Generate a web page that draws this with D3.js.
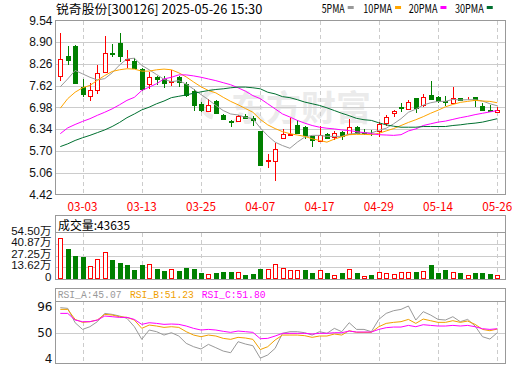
<!DOCTYPE html>
<html><head><meta charset="utf-8">
<script src="https://cdn.jsdelivr.net/npm/d3@7"></script>
<style>html,body{margin:0;padding:0;background:#fff}svg{display:block}</style>
</head><body>
<svg id="chart" width="520" height="365"></svg>
<script>
// ---------------- data ----------------
const dates = ["02-26","02-27","02-28","03-03","03-04","03-05","03-06","03-07","03-10","03-11","03-12","03-13","03-14","03-17","03-18","03-19","03-20","03-21","03-24","03-25","03-26","03-27","03-28","03-31","04-01","04-02","04-03","04-07","04-08","04-09","04-10","04-11","04-14","04-15","04-16","04-17","04-18","04-21","04-22","04-23","04-24","04-25","04-28","04-29","04-30","05-06","05-07","05-08","05-09","05-12","05-13","05-14","05-15","05-16","05-19","05-20","05-21","05-22","05-23","05-26"];
const openP  = [7.90,8.51,8.80,7.59,7.32,7.50,8.03,8.57,8.88,8.38,8.36,8.12,7.68,7.89,7.82,7.73,7.89,7.68,7.48,7.07,6.89,7.17,6.77,6.58,6.59,6.72,6.66,6.30,5.40,5.41,6.09,6.17,6.47,6.40,6.14,5.99,6.19,6.11,6.25,6.21,6.42,6.25,6.21,6.28,6.53,6.82,6.98,6.93,7.27,7.04,7.36,7.28,7.17,7.12,7.27,7.25,7.30,7.02,6.92,6.86];
const highP  = [9.17,8.78,8.82,7.82,7.71,8.22,9.07,8.85,9.17,8.66,8.43,8.15,8.02,7.92,7.90,8.07,7.92,7.73,7.51,7.14,7.22,7.21,6.79,6.62,6.76,6.79,6.72,6.30,5.60,5.93,6.35,6.68,6.60,6.45,6.14,6.45,6.23,6.28,6.28,6.63,6.45,6.35,6.33,6.55,6.75,6.92,7.12,7.21,7.27,7.38,7.76,7.33,7.33,7.58,7.27,7.30,7.30,7.11,7.04,6.99];
const lowP   = [7.76,8.22,7.66,7.28,7.17,7.38,8.01,8.46,8.31,8.15,8.11,7.46,7.51,7.63,7.56,7.60,7.58,7.30,6.87,6.86,6.89,6.81,6.60,6.40,6.57,6.64,6.43,5.29,5.21,4.81,6.06,6.16,6.21,6.05,5.81,5.99,6.04,6.03,6.01,6.19,6.21,6.16,6.13,6.11,6.45,6.70,6.84,6.93,6.82,6.99,7.24,7.12,7.02,7.09,7.19,7.21,6.99,6.92,6.87,6.82];
const closeP = [8.41,8.39,7.70,7.38,7.50,8.00,8.59,8.55,8.49,8.40,8.14,7.53,7.87,7.81,7.70,7.77,7.72,7.36,7.04,6.91,7.04,6.83,6.63,6.56,6.74,6.68,6.62,5.29,5.43,5.76,6.19,6.21,6.23,6.16,6.03,6.16,6.09,6.23,6.13,6.40,6.22,6.23,6.19,6.50,6.70,6.89,6.96,7.13,6.97,7.30,7.24,7.16,7.13,7.26,7.21,7.27,7.19,6.92,6.87,6.92];
const volume = [48.6,34.9,26.7,25.5,15.7,23.9,32.2,22.3,18.4,16.1,10.2,16.1,18.0,11.8,9.0,12.2,9.0,12.5,11.8,6.7,6.3,6.7,7.8,7.8,8.6,4.3,5.5,11.4,11.4,18.0,13.3,11.0,11.0,10.2,6.7,11.0,6.7,5.1,6.7,12.2,6.7,3.9,4.3,8.6,7.4,6.3,8.6,8.6,7.8,9.8,16.1,6.7,10.2,8.6,6.7,5.1,6.7,6.7,5.5,4.36];
const ma5  = [7.59,7.82,8.07,7.97,7.87,7.79,7.83,8.00,8.23,8.41,8.43,8.22,8.09,7.95,7.81,7.74,7.77,7.67,7.52,7.36,7.21,7.04,6.89,6.79,6.76,6.69,6.65,6.38,6.15,5.96,5.86,5.78,5.96,6.11,6.16,6.16,6.13,6.13,6.13,6.20,6.22,6.24,6.23,6.31,6.37,6.50,6.65,6.84,6.93,7.05,7.12,7.16,7.16,7.22,7.20,7.21,7.21,7.17,7.09,7.03];
const ma10 = [6.96,7.24,7.43,7.56,7.63,7.78,7.92,8.04,8.09,8.12,8.11,8.05,8.05,8.09,8.11,8.09,8.00,7.88,7.73,7.59,7.48,7.41,7.28,7.16,7.06,6.95,6.84,6.63,6.47,6.36,6.27,6.21,6.17,6.13,6.06,6.01,5.96,6.05,6.12,6.18,6.19,6.19,6.18,6.22,6.29,6.36,6.45,6.54,6.62,6.71,6.81,6.90,7.00,7.07,7.13,7.16,7.19,7.17,7.16,7.12];
const ma20 = [6.21,6.38,6.48,6.57,6.65,6.75,6.84,6.94,7.06,7.19,7.28,7.48,7.58,7.68,7.82,7.87,7.94,7.94,7.91,7.87,7.82,7.77,7.71,7.65,7.56,7.46,7.33,7.24,7.09,6.94,6.79,6.70,6.60,6.52,6.45,6.40,6.37,6.35,6.32,6.30,6.27,6.24,6.21,6.18,6.17,6.16,6.18,6.29,6.35,6.45,6.50,6.55,6.58,6.63,6.68,6.72,6.77,6.81,6.85,6.89];
const ma30 = [5.83,5.91,6.01,6.09,6.16,6.24,6.32,6.42,6.54,6.68,6.79,6.91,6.99,7.09,7.17,7.27,7.31,7.35,7.40,7.44,7.48,7.51,7.53,7.56,7.58,7.58,7.56,7.53,7.43,7.38,7.30,7.27,7.21,7.14,7.09,7.04,6.97,6.89,6.81,6.74,6.66,6.62,6.60,6.53,6.47,6.43,6.40,6.40,6.40,6.42,6.42,6.42,6.42,6.45,6.47,6.50,6.52,6.55,6.60,6.65];
const rsiA = [94.3,93.1,68.0,56.3,61.0,69.8,84.3,82.6,79.7,75.6,61.0,38.9,55.2,52.3,46.4,50.5,44.7,31.9,26.0,22.0,30.1,24.3,18.4,15.5,34.8,30.7,27.8,6.0,11.5,23.1,49.4,52.3,52.3,50.5,46.4,52.3,49.4,58.1,52.3,68.0,56.3,56.3,52.3,73.8,84.3,89.0,91.3,97.2,72.7,87.3,81.4,73.8,72.7,78.5,69.8,73.8,62.2,43.5,39.4,50.5];
const rsiB = [91.3,91.3,73.8,68.6,69.8,72.7,82.6,81.4,78.5,77.3,72.7,58.1,63.9,62.2,59.8,61.0,59.8,52.3,46.4,43.5,46.4,44.7,40.6,38.9,42.4,41.2,38.9,21.0,26.0,37.7,46.4,46.4,46.4,45.3,42.4,44.7,44.7,48.2,46.4,54.0,51.1,51.1,51.1,61.0,66.8,68.6,69.8,73.8,66.8,74.4,71.5,68.6,68.6,71.5,68.6,70.9,65.1,56.3,54.0,56.9];
const rsiC = [84.3,84.3,72.7,69.8,69.8,72.7,79.7,78.5,77.3,77.3,73.8,65.1,68.0,66.8,65.1,65.7,65.1,62.2,58.1,55.2,56.3,55.2,52.9,51.1,53.4,52.3,51.1,40.0,40.6,44.7,49.4,49.4,49.4,49.4,48.2,49.4,49.4,50.5,50.5,53.4,51.7,51.7,51.7,56.3,59.3,60.4,60.4,63.3,61.0,64.5,63.3,62.2,62.2,63.3,62.2,63.3,61.0,57.5,56.3,57.5];

const dateTicks = ["03-03","03-13","03-25","04-07","04-17","04-29","05-14","05-26"];
const priceTicks = ["9.54","8.90","8.26","7.62","6.98","6.34","5.70","5.06","4.42"];
const volTickValues = [54.5,40.87,27.25,13.62,0];
const volTickLabels = ["54.50万","40.87万","27.25万","13.62万","0"];
const rsiTicks = [96,50,4];
const titleText = "锐奇股份[300126] 2025-05-26 15:30";
const legendNames = ["5PMA","10PMA","20PMA","30PMA"];
const volLabel = "成交量:43635";
const rsiLabels = ["RSI_A:45.07","RSI_B:51.23","RSI_C:51.80"];
const watermark = "东方财富";

// ---------------- styles ----------------
const RED = "#ff0000", GRN = "#008000";
const maColors = ["#999999","#ffa500","#ff00ff","#007030"];
const rsiColors = ["#999999","#f0a000","#ff00ff"];
const FRAME = "#999999", GRID = "#cccccc";
const CJK = "'Noto Sans CJK SC','Noto Sans',sans-serif";
const MONO = "'Liberation Mono','DejaVu Sans Mono',monospace";
const SANS = "'Liberation Sans',Arial,'Noto Sans CJK SC',sans-serif";

const X0 = 55.5, X1 = 505.5;
const P = {top:20.5, bottom:194.5};
const V = {top:215.5, sep:232.5, bottom:279};
const R = {top:288.5, sep:301, bottom:363.5};

const svg = d3.select("#chart");
const x = d3.scalePoint().domain(dates).range([60.3, 497.3]);
const y = d3.scaleLinear().domain([4.42, 9.54]).range([P.bottom, P.top]);
const yv = d3.scaleLinear().domain([0, 54.5]).range([V.bottom, V.sep]);
const yr = d3.scaleLinear().domain([4, 96]).range([359.3, 306.7]);
const px = v => Math.round(v) + 0.5;

// simsun-like text width: full-width for CJK, half for ascii
function tw(s, size){ let w=0; for (const ch of s) w += ch.charCodeAt(0) > 255 ? size : size/2; return w; }
function label(sel, s, size, fam){
  return sel.text(s).attr("font-family", fam || CJK).attr("font-size", size)
    .attr("textLength", tw(s,size)).attr("lengthAdjust","spacingAndGlyphs")
    .attr("dominant-baseline","central");
}

svg.append("rect").attr("width",520).attr("height",365).attr("fill","#fff");

// watermark
const wm = svg.append("g");
wm.append("path")
  .attr("d", d3.arc().innerRadius(11).outerRadius(16).startAngle(-2.9).endAngle(-0.2)())
  .attr("transform","translate(216,104)").attr("fill","#ebebeb");
wm.append("text").attr("x",231).attr("y",105).text(watermark)
  .attr("font-family",CJK).attr("font-size",35).attr("font-weight","bold")
  .attr("fill","#ebebeb").attr("dominant-baseline","central");

// ---------------- grids ----------------
const grid = svg.append("g").attr("shape-rendering","crispEdges");
grid.selectAll(".hp").data(priceTicks.slice(1,-1)).join("line")
  .attr("x1",X0).attr("x2",X1).attr("y1",d=>px(y(+d))).attr("y2",d=>px(y(+d)))
  .attr("stroke",GRID);
grid.selectAll(".hv").data(volTickValues.slice(1,-1)).join("line")
  .attr("x1",X0).attr("x2",X1).attr("y1",d=>px(yv(d))).attr("y2",d=>px(yv(d)))
  .attr("stroke",GRID);
grid.append("line").attr("x1",X0).attr("x2",X1).attr("y1",px(yr(50))).attr("y2",px(yr(50))).attr("stroke",GRID);
[[P.top,P.bottom],[V.sep,V.bottom],[R.sep,R.bottom]].forEach(([a,b])=>{
  grid.append("g").selectAll("line").data(dateTicks).join("line")
    .attr("x1",d=>px(x(d))).attr("x2",d=>px(x(d))).attr("y1",a).attr("y2",b)
    .attr("stroke",GRID).attr("stroke-dasharray","4,3");
});

// ---------------- candles ----------------
const rows = dates.map((d,i)=>({d, o:openP[i], h:highP[i], l:lowP[i], c:closeP[i], v:volume[i],
  up: closeP[i] >= openP[i], vup: i===0 ? closeP[i] >= openP[i] : closeP[i] >= closeP[i-1]}));
const cx = r => px(x(r.d));
const cg = svg.append("g").attr("shape-rendering","crispEdges");
cg.selectAll(".wick").data(rows).join("line")
  .attr("x1",cx).attr("x2",cx).attr("y1",r=>y(r.h)).attr("y2",r=>y(r.l))
  .attr("stroke",r=>r.up?RED:GRN);
cg.selectAll(".body").data(rows).join("rect")
  .attr("x",r=>cx(r)-2).attr("width",4)
  .attr("y",r=>px(y(Math.max(r.o,r.c))))
  .attr("height",r=>Math.max(0, Math.round(y(Math.min(r.o,r.c))) - Math.round(y(Math.max(r.o,r.c)))))
  .attr("fill",r=>r.up?"#fff":GRN).attr("stroke",r=>r.up?RED:GRN);

// MA lines
const mas = [ma5, ma10, ma20, ma30];
const lineP = d3.line().x((v,i)=>x(dates[i])).y(v=>y(v));
svg.append("g").selectAll("path").data(mas).join("path")
  .attr("d",lineP).attr("fill","none").attr("stroke",(d,i)=>maColors[i]).attr("stroke-width",1);

// ---------------- volume ----------------
const vg = svg.append("g").attr("shape-rendering","crispEdges");
vg.selectAll("rect").data(rows).join("rect")
  .attr("x",r=>cx(r)-2).attr("width",4)
  .attr("y",r=>px(yv(r.v)))
  .attr("height",r=>Math.max(0, Math.round(yv(0)) - 1 - Math.round(yv(r.v))))
  .attr("fill",r=>r.vup?"#fff":GRN).attr("stroke",r=>r.vup?RED:GRN);

// ---------------- RSI ----------------
const lineR = d3.line().x((v,i)=>x(dates[i])).y(v=>yr(v));
svg.append("g").selectAll("path").data([rsiA, rsiB, rsiC]).join("path")
  .attr("d",lineR).attr("fill","none").attr("stroke",(d,i)=>rsiColors[i]).attr("stroke-width",1);

// ---------------- frames ----------------
const fr = svg.append("g").attr("shape-rendering","crispEdges").attr("fill","none").attr("stroke",FRAME);
fr.append("rect").attr("x",X0).attr("y",P.top).attr("width",X1-X0).attr("height",P.bottom-P.top);
fr.append("rect").attr("x",X0).attr("y",V.top).attr("width",X1-X0).attr("height",V.bottom-V.top);
fr.append("line").attr("x1",X0).attr("x2",X1).attr("y1",V.sep).attr("y2",V.sep);
fr.append("rect").attr("x",X0).attr("y",R.top).attr("width",X1-X0).attr("height",R.bottom-R.top);
fr.append("line").attr("x1",X0).attr("x2",X1).attr("y1",R.sep).attr("y2",R.sep);

// ---------------- texts ----------------
label(svg.append("text").attr("x",56).attr("y",8).attr("fill","#000"), titleText, 12.5);
const legX = [321.7, 363.3, 408.7, 455];
legendNames.forEach((n,i)=>{
  label(svg.append("text").attr("x",legX[i]).attr("y",8).attr("fill","#000"), n, 11.5);
  svg.append("rect").attr("x",legX[i]+tw(n,11.5)+3).attr("y",6).attr("width",6).attr("height",3)
    .attr("fill",maColors[i]);
});

// price axis labels
svg.append("g").selectAll("text").data(priceTicks).join("text")
  .attr("x",52.5).attr("y",d=>y(+d)).attr("text-anchor","end").attr("dominant-baseline","central")
  .attr("font-family",SANS).attr("font-size",12).attr("fill","#111").text(d=>d);

// date labels
svg.append("g").selectAll("text").data(dateTicks).join("text")
  .attr("x",d=>x(d)).attr("y",205).attr("text-anchor","middle")
  .each(function(d){ label(d3.select(this), d, 12); })
  .attr("fill",RED);

// volume labels
label(svg.append("text").attr("x",58).attr("y",224).attr("fill","#000"), volLabel, 12);
svg.append("g").selectAll("text").data(volTickValues).join("text")
  .attr("x",51.5).attr("y",d=>yv(d)-2).attr("text-anchor","end").attr("dominant-baseline","central")
  .attr("font-family",SANS).attr("font-size",11.5).attr("fill","#111").text((d,i)=>volTickLabels[i]);

// RSI labels
const rsiLX = [57.7, 130, 201.7];
rsiLabels.forEach((s,i)=>{
  label(svg.append("text").attr("x",rsiLX[i]).attr("y",294.3).attr("fill",rsiColors[i]), s, 11.6, MONO);
});
svg.append("g").selectAll("text").data(rsiTicks).join("text")
  .attr("x",52.5).attr("y",d=>yr(d)).attr("text-anchor","end").attr("dominant-baseline","central")
  .attr("font-family","'DejaVu Sans',sans-serif").attr("font-size",12).attr("fill","#111").text(d=>d);
</script>
</body></html>
